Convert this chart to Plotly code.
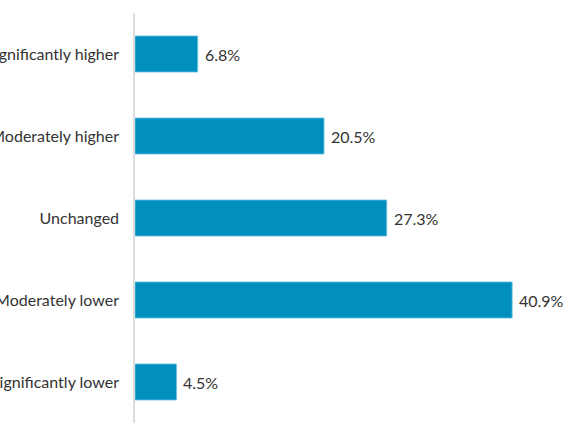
import plotly.graph_objects as go

# categories top to bottom and their shares (%)
categories = [
    "Significantly higher",
    "Moderately higher",
    "Unchanged",
    "Moderately lower",
    "Significantly lower",
]
shares = [6.8, 20.5, 27.3, 40.9, 4.5]
share_labels = ["6.8%", "20.5%", "27.3%", "40.9%", "4.5%"]

BAR_COLOR = "#008FBF"
TEXT_COLOR = "#333333"
FONT = "Lato"

fig = go.Figure()

fig.add_trace(go.Bar(
    x=shares,
    y=categories,
    orientation="h",
    width=0.44,
    marker=dict(color=BAR_COLOR, line=dict(color="#6cc4e2", width=0.8)),
    hoverinfo="skip",
))

# value labels just past the bar ends
for cat, val, lab in zip(categories, shares, share_labels):
    fig.add_annotation(
        x=val, y=cat, text=lab,
        xanchor="left", yanchor="middle", xshift=5,
        showarrow=False,
        font=dict(size=16, color=TEXT_COLOR, family=FONT),
    )

fig.update_layout(
    width=580,
    height=435,
    margin=dict(l=135, r=0, t=13, b=12),
    paper_bgcolor="white",
    plot_bgcolor="white",
    font=dict(family=FONT, size=16, color=TEXT_COLOR),
    showlegend=False,
    xaxis=dict(
        range=[0, 48.26],
        showgrid=False,
        zeroline=False,
        showticklabels=False,
        showline=False,
    ),
    yaxis=dict(
        autorange="reversed",
        showgrid=False,
        showline=True,
        linecolor="#dcdcdc",
        linewidth=1.5,
        ticks="",
        ticklabelstandoff=11,
        automargin=False,
    ),
)

# drop the browser's default page margin so the chart sits at the top-left corner
fig.write_html(
    "out.html",
    config={"displayModeBar": False},
    post_script="document.body.style.margin = '0';",
)
